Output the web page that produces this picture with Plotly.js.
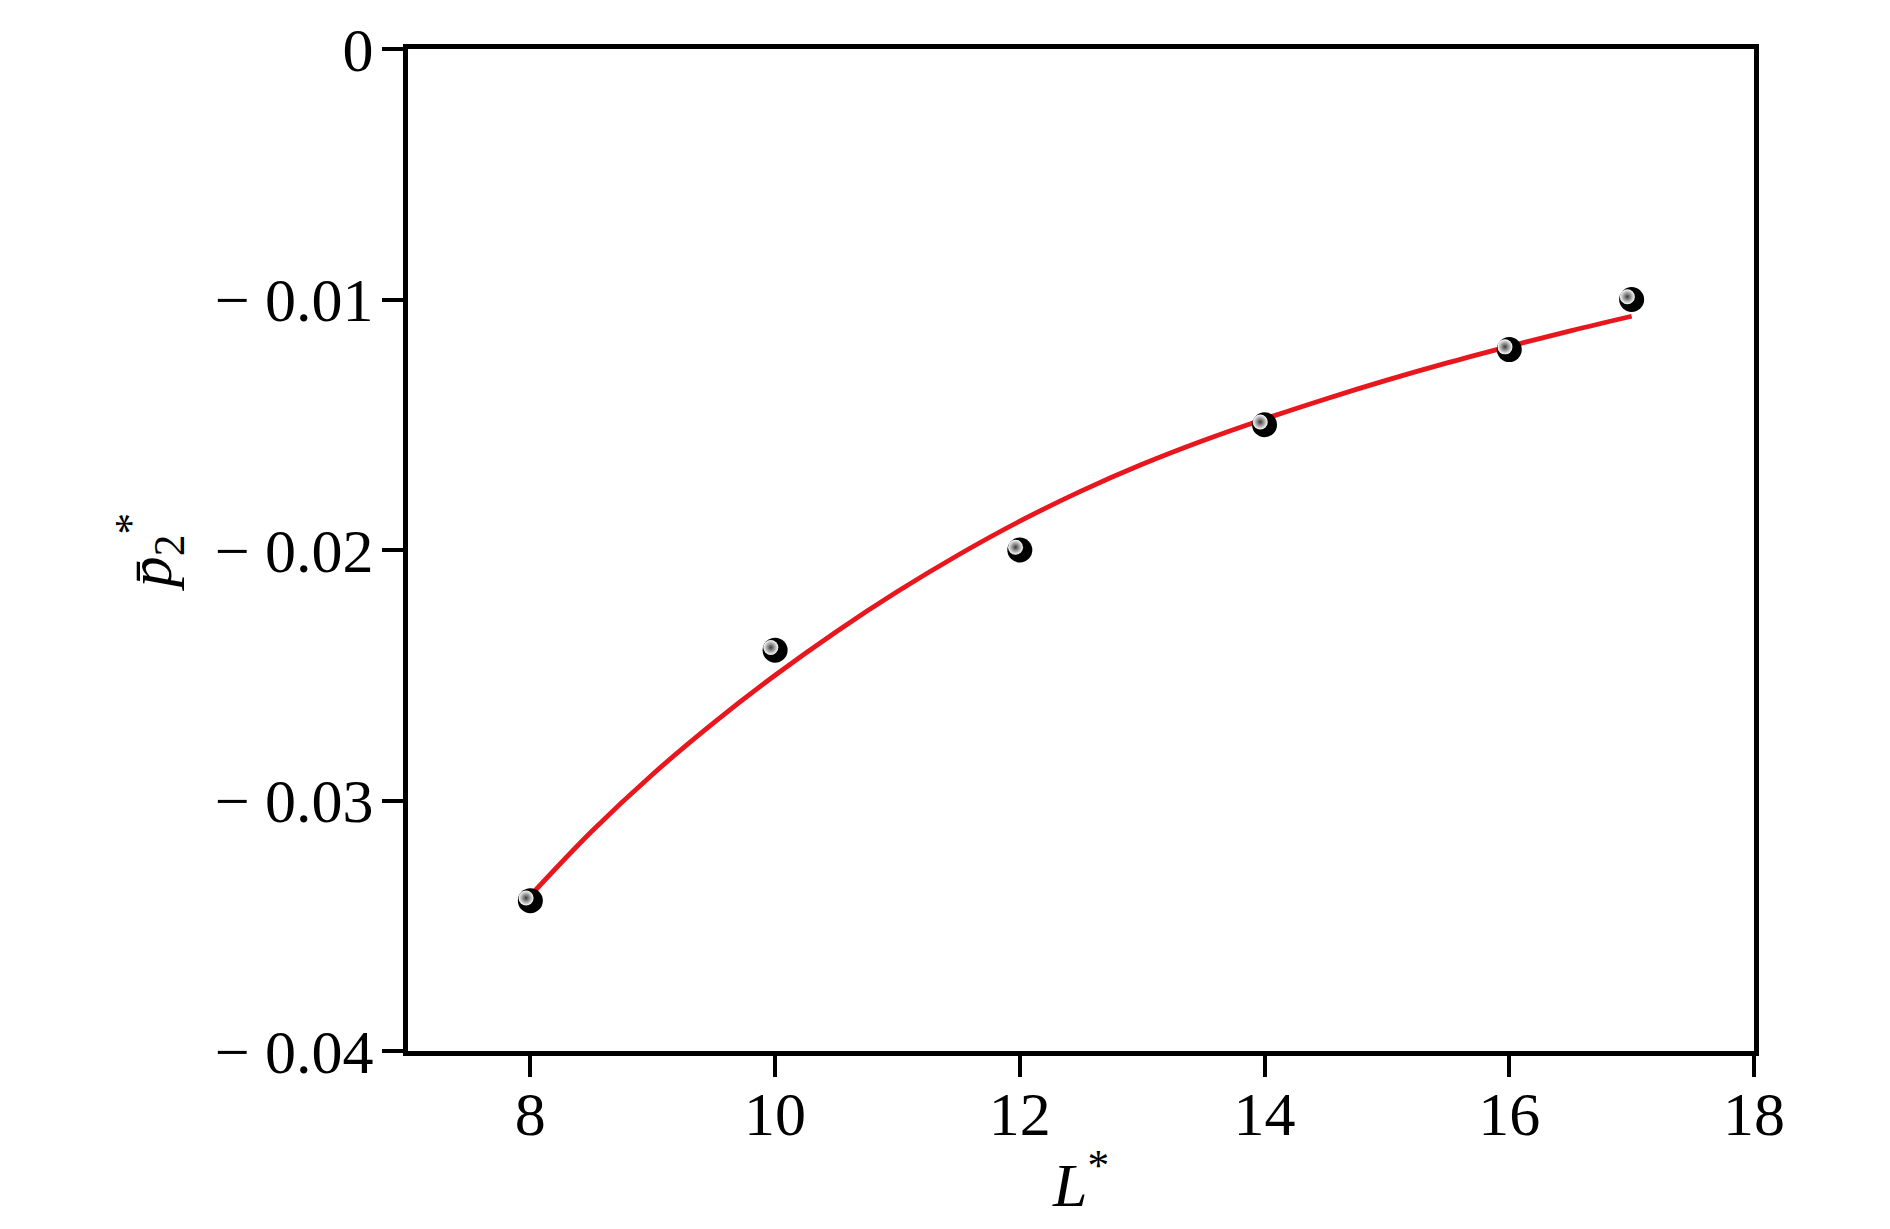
<!DOCTYPE html>
<html>
<head>
<meta charset="utf-8">
<script src="https://cdn.plot.ly/plotly-3.0.1.min.js"></script>
<style>html,body{margin:0;padding:0;background:#fff;}#chart{width:1890px;height:1229px;}</style>
</head>
<body>
<div id="chart"></div>
<script>
// Data points (black spheres)
var pointsL = [8, 10, 12, 14, 16, 17];
var pointsP = [-0.034, -0.024, -0.020, -0.015, -0.012, -0.010];

// Fitted red curve
var curveL = [8, 8.5, 9, 9.5, 10, 10.5, 11, 11.5, 12, 12.5, 13, 13.5, 14, 14.5, 15, 15.5, 16, 16.5, 17];
var curveP = [-0.03380, -0.03124, -0.02895, -0.02689, -0.02500, -0.02326, -0.02166, -0.02019, -0.01885, -0.01765,
              -0.01658, -0.01563, -0.01477, -0.01397, -0.01322, -0.01252, -0.01187, -0.01125, -0.01067];

// Tick labels
var xTickVals = [8, 10, 12, 14, 16, 18];
var xTickText = ['8', '10', '12', '14', '16', '18'];
var yTickVals = [-0.04, -0.03, -0.02, -0.01, 0];
var yTickText = ['\u2212 0.04', '\u2212 0.03', '\u2212 0.02', '\u2212 0.01', '0'];

var FONT = '"Liberation Serif", "Times New Roman", Times, serif';
var FS = 62;

var traces = [
  {
    x: curveL, y: curveP, mode: 'lines', type: 'scatter',
    line: {color: '#e8161d', width: 4.8, shape: 'spline', smoothing: 1},
    hoverinfo: 'skip', showlegend: false
  },
  {
    x: pointsL, y: pointsP, mode: 'markers', type: 'scatter',
    marker: {size: 25, color: '#000000', line: {width: 0}},
    showlegend: false
  },
  {
    // specular highlight, drawn on slightly shifted overlay axes
    x: pointsL, y: pointsP, mode: 'markers', type: 'scatter',
    xaxis: 'x2', yaxis: 'y2',
    marker: {size: 15, color: '#ffffff', line: {width: 0},
             gradient: {type: 'radial', color: '#3c3c3c'}},
    showlegend: false, hoverinfo: 'skip'
  }
];

var xRange = [7, 18];
var yRange = [-0.04, 0];
var dx = 0.035, dy = 0.00011;

var layout = {
  width: 1890, height: 1229,
  margin: {l: 408, r: 136, t: 49, b: 178, pad: 0},
  paper_bgcolor: '#ffffff', plot_bgcolor: '#ffffff',
  font: {family: FONT, size: FS, color: '#000000'},
  xaxis: {
    range: xRange, tickvals: xTickVals, ticktext: xTickText,
    showgrid: false, zeroline: false,
    showline: true, linecolor: '#000000', linewidth: 5, mirror: true,
    ticks: 'outside', ticklen: 21, tickwidth: 4, tickcolor: '#000000',
    tickfont: {family: FONT, size: FS, color: '#000000'},
    ticklabelstandoff: -16,
    title: {text: '<i>L</i><sup>*</sup>', font: {family: FONT, size: FS, color: '#000000'}, standoff: 17}
  },
  yaxis: {
    range: yRange, tickvals: yTickVals, ticktext: yTickText,
    showgrid: false, zeroline: false,
    showline: true, linecolor: '#000000', linewidth: 5, mirror: true,
    ticks: 'outside', ticklen: 21, tickwidth: 4, tickcolor: '#000000',
    tickfont: {family: FONT, size: FS, color: '#000000'},
    ticklabelstandoff: -4,
    title: {text: '<i>p\u0304</i><sub>2</sub><sup>*</sup>', font: {family: FONT, size: FS, color: '#000000'}, standoff: 24}
  },
  xaxis2: {range: [xRange[0] + dx, xRange[1] + dx], overlaying: 'x', visible: false},
  yaxis2: {range: [yRange[0] - dy, yRange[1] - dy], overlaying: 'y', visible: false},
  showlegend: false
};

Plotly.newPlot('chart', traces, layout, {displayModeBar: false, staticPlot: true});
</script>
</body>
</html>
